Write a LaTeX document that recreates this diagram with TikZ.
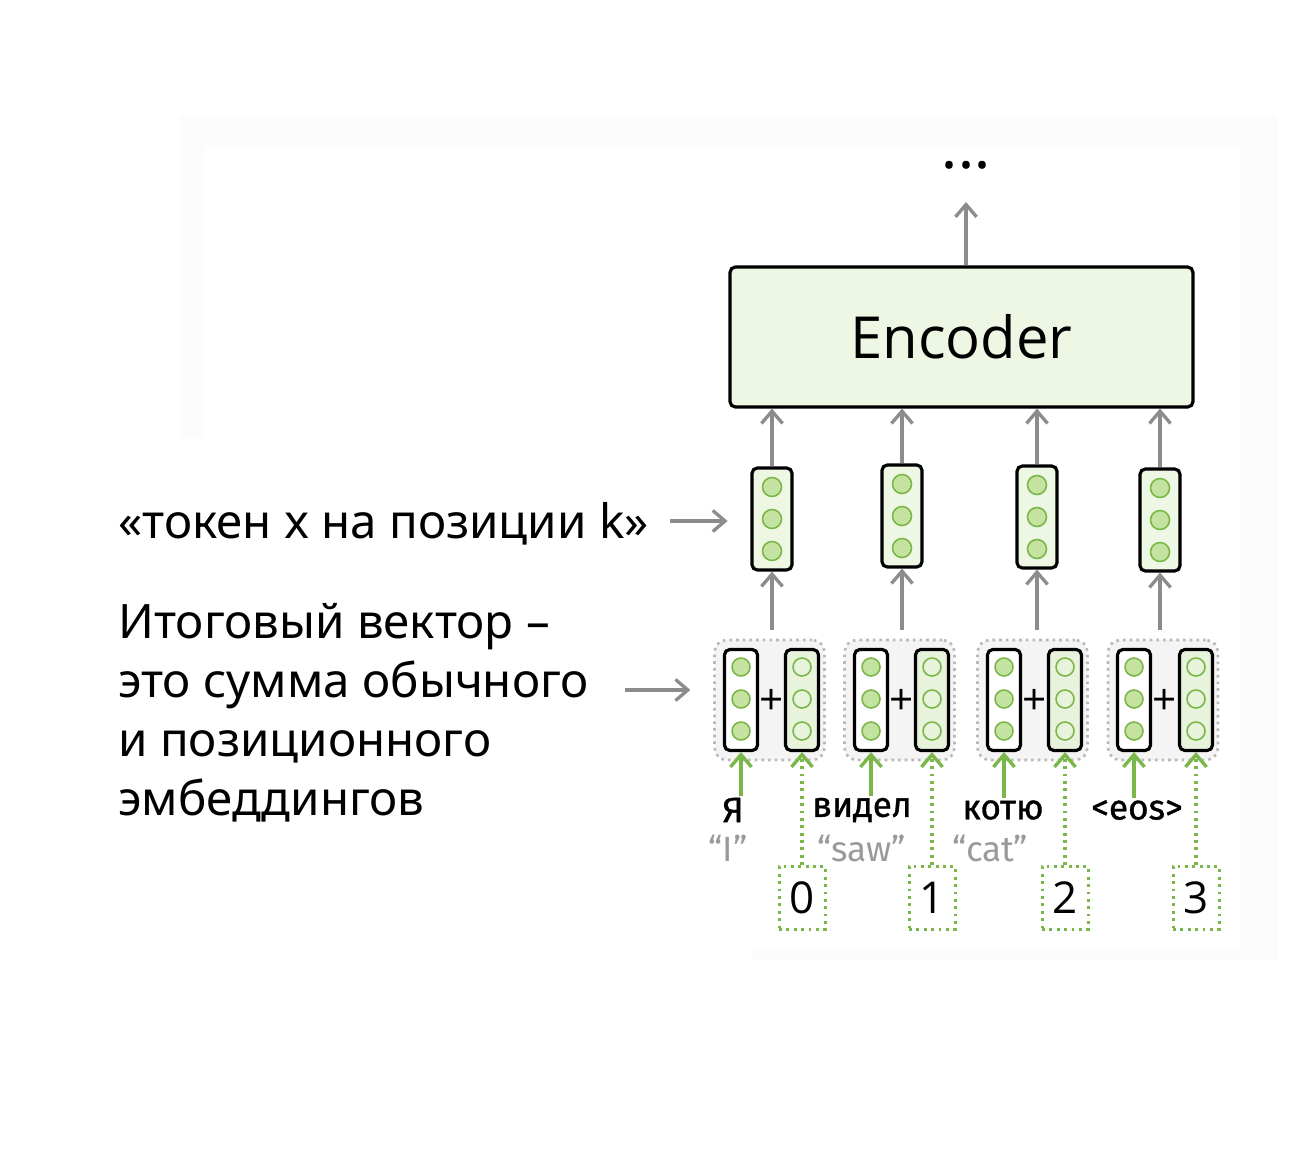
\documentclass[tikz,border=0pt]{standalone}
\usepackage{fontspec}
\setmainfont{Noto Sans}
\newfontfamily\encfont{Open Sans}
\newfontfamily\wordfont[FakeBold=1]{Fira Sans}
\newfontfamily\glossfont{Fira Sans}
\usetikzlibrary{positioning,arrows.meta}

\definecolor{boxgreen}{HTML}{EEF6E4}
\definecolor{beadfill}{HTML}{C5E3A0}
\definecolor{beadline}{HTML}{7AB648}
\definecolor{posfill}{HTML}{E8F3DC}
\definecolor{arrgray}{HTML}{8C8C8C}
\definecolor{grpfill}{HTML}{F4F4F4}
\definecolor{glossgray}{HTML}{9A9A9A}
\definecolor{framegray}{HTML}{FCFCFC}

\begin{document}
\begin{tikzpicture}[
  x=0.02cm, y=-0.02cm,
  arr/.style={-{Straight Barb[length=7pt,width=12pt]}, arrgray, line width=1.9pt},
  garr/.style={arr, draw=beadline},
  gdots/.style={garr, dash pattern=on 1.6pt off 2.6pt},
  encbox/.style={rectangle, rounded corners=3pt, draw, line width=1.8pt, fill=boxgreen,
                 minimum width=9.26cm, minimum height=2.8cm,
                 font=\encfont\fontsize{33}{36}\selectfont},
  vecbox/.style={rectangle, rounded corners=3pt, draw, line width=1.8pt, fill=boxgreen,
                 minimum width=0.8cm, minimum height=2.04cm, inner sep=0pt},
  tokbox/.style={vecbox, fill=white, minimum width=0.66cm, minimum height=2.02cm},
  posbox/.style={tokbox, fill=posfill},
  bead/.style={circle, draw=beadline, fill=beadfill, line width=0.9pt,
               minimum size=0.38cm, inner sep=0pt},
  hbead/.style={bead, fill=posfill, minimum size=0.36cm},
  sbead/.style={bead, minimum size=0.36cm},
  grp/.style={rectangle, rounded corners=7pt, draw=gray!55, fill=grpfill,
              dash pattern=on 1.5pt off 2.3pt, line width=1.5pt,
              minimum width=2.2cm, minimum height=2.4cm},
  numbox/.style={rectangle, draw=beadline, dash pattern=on 1.6pt off 2.6pt, line width=1.7pt,
                 minimum width=0.92cm, minimum height=1.26cm, inner sep=0pt,
                 font=\encfont\fontsize{25}{28}\selectfont},
  word/.style={font=\wordfont\fontsize{20}{22}\selectfont, inner sep=1pt},
  gloss/.style={font=\glossfont\fontsize{20}{22}\selectfont, inner sep=1pt, text=glossgray},
  side/.style={font=\fontsize{27}{33.5}\selectfont, inner sep=0pt}
]
\useasboundingbox (0,0) rectangle (1311,1152);

% faint frame of the pasted picture
\fill[framegray] (180,115) rectangle (1278,148);
\fill[framegray] (180,148) rectangle (205,438);
\fill[framegray] (1240,148) rectangle (1278,960);
\fill[framegray] (752,948) rectangle (1240,960);

\node[encbox] (enc) at (961.5,337) {Encoder};
\node[font=\bfseries\fontsize{34}{36}\selectfont, inner sep=0pt] (dots) at (966,165) {...};
\coordinate (outtip) at (966,202);
\draw[arr] (enc.north -| outtip) -- (outtip);

% one column per token
\foreach \i/\tx/\ty/\L/\R/\w/\wx in {
    1/772/519/741/802/Я/733,
    2/902/516/871/932/видел/862,
    3/1037/517/1004/1065/котю/1003,
    4/1160/520/1134/1196/<eos>/1137}{
  \pgfmathtruncatemacro{\n}{\i-1}
  \node[grp] (g\i) at ({(\L+\R)/2-2},700) {};
  \node[vecbox] (t\i) at (\tx,\ty) {};
  \foreach \k in {-1,0,1}
    \node[bead] at (\tx,{\ty+32*\k}) {};
  \node[tokbox] (a\i) at (\L,700) {};
  \node[posbox] (p\i) at (\R,700) {};
  \foreach \k in {-1,0,1}{
    \node[sbead] at (\L,{699+32*\k}) {};
    \node[hbead] at (\R,{699+32*\k}) {};
  }
  \node[font=\encfont\fontsize{24}{26}\selectfont, inner sep=0pt] (plus\i) at ({(\L+\R)/2},702) {+};
  \node[word] (w\i) at (\wx,810) {\w};
  \node[numbox] (n\i) at (\R,898) {\n};
  \draw[arr, shorten <=5pt] (g\i.north -| t\i) -- (t\i.south);
  \draw[arr] (t\i.north) -- (t\i.north |- enc.south);
  \draw[garr] (w\i.north -| a\i) -- (a\i.south);
  \draw[gdots] (n\i.north) -- (p\i.south);
}

\node[gloss] (gl1) at (728,848) {“I”};
\node[gloss] (gl2) at (862,848) {“saw”};
\node[gloss] (gl3) at (990,848) {“cat”};

% explanations on the left
\node[side, anchor=base west] (klabel) at (118,538) {«токен x на позиции k»};
\node[side, anchor=north west, align=left] (sumlabel) at (118,603)
  {Итоговый вектор –\\это сумма обычного\\и позиционного\\эмбеддингов};
\coordinate (ktail) at (670,521);
\draw[arr, shorten >=13pt] (ktail) -- (ktail -| t1.west);
\coordinate (sumtail) at (625,690);
\draw[arr, shorten >=13pt] (sumtail) -- (sumtail -| g1.west);
\end{tikzpicture}
\end{document}
